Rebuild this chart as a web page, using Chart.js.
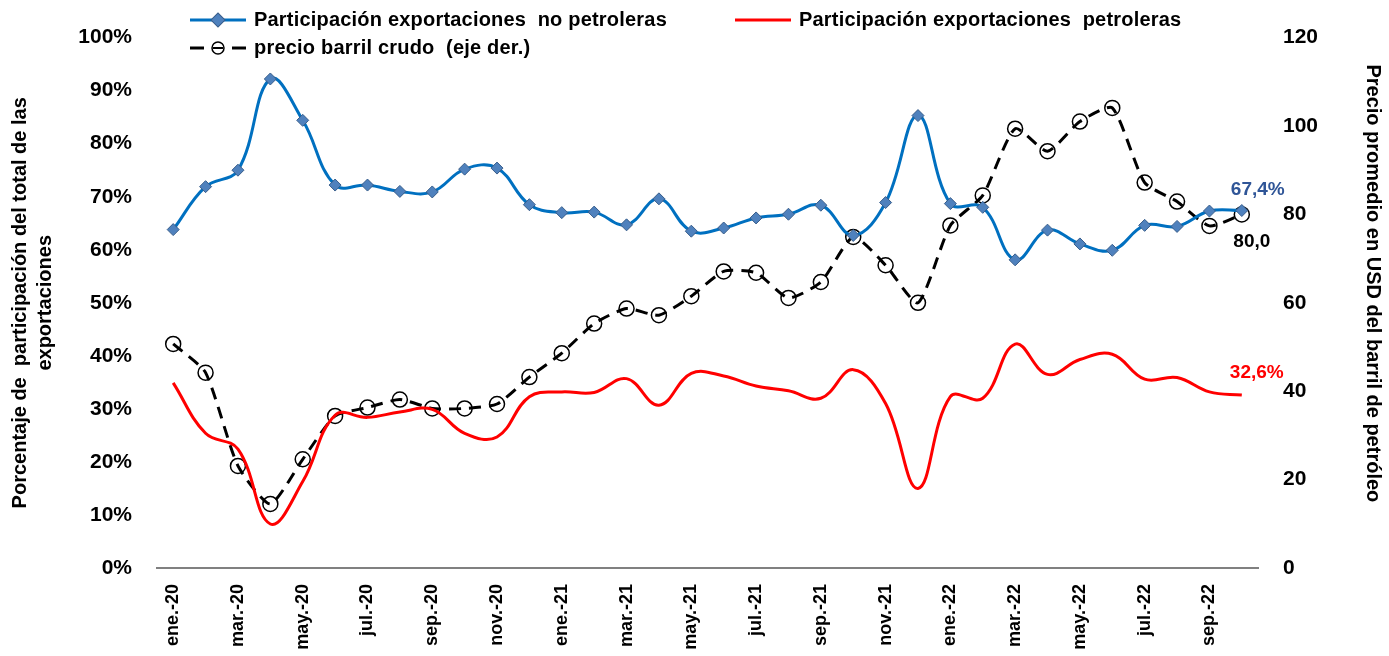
<!DOCTYPE html>
<html>
<head>
<meta charset="utf-8">
<script src="https://cdn.jsdelivr.net/npm/chart.js@4.4.1/dist/chart.umd.min.js"></script>
<style>
  body { margin: 0; background: #fff; }
  #wrap { position: relative; width: 1389px; height: 656px; }
  #leyenda { position: absolute; left: 0; top: 0; width: 1389px; height: 70px;
    font-family: 'Liberation Sans Narrow', 'Arial Narrow', 'Liberation Sans', Arial, sans-serif;
    font-weight: bold; font-size: 20px; letter-spacing: 0.2px; color: #000; }
  .item { position: absolute; display: flex; align-items: center; white-space: nowrap; }
  .item svg { margin-right: 8px; flex: none; }
</style>
</head>
<body>
<div id="wrap">
  <canvas id="graficoExport" width="1389" height="656"></canvas>
  <div id="leyenda">
    <div class="item" style="left:190px; top:8px;"><svg width="56" height="16"><line x1="0" y1="8" x2="56" y2="8" stroke="#0070C0" stroke-width="3"/><rect x="23" y="3" width="10" height="10" fill="#4F81BD" stroke="#385D8A" transform="rotate(45 28 8)"/></svg><span>Participación exportaciones&nbsp; no petroleras</span></div>
    <div class="item" style="left:735px; top:8px;"><svg width="56" height="16"><line x1="0" y1="8" x2="56" y2="8" stroke="#FF0000" stroke-width="3"/></svg><span>Participación exportaciones&nbsp; petroleras</span></div>
    <div class="item" style="left:190px; top:36px;"><svg width="56" height="16"><line x1="0" y1="8" x2="14" y2="8" stroke="#000" stroke-width="3"/><line x1="42" y1="8" x2="56" y2="8" stroke="#000" stroke-width="3"/><circle cx="28" cy="8" r="6" fill="none" stroke="#000" stroke-width="1.5"/><line x1="23" y1="8" x2="33" y2="8" stroke="#000" stroke-width="2"/></svg><span>precio barril crudo&nbsp; (eje der.)</span></div>
  </div>
</div>
<script>
const meses = ['ene.-20','feb.-20','mar.-20','abr.-20','may.-20','jun.-20','jul.-20','ago.-20','sep.-20','oct.-20','nov.-20','dic.-20',
               'ene.-21','feb.-21','mar.-21','abr.-21','may.-21','jun.-21','jul.-21','ago.-21','sep.-21','oct.-21','nov.-21','dic.-21',
               'ene.-22','feb.-22','mar.-22','abr.-22','may.-22','jun.-22','jul.-22','ago.-22','sep.-22','oct.-22'];

// participación exportaciones no petroleras (%)
const noPetroleras = [63.8, 71.9, 75.0, 92.2, 84.4, 72.2, 72.2, 71.0, 70.9, 75.2, 75.4, 68.5,
                      67.0, 67.1, 64.7, 69.6, 63.5, 64.1, 66.0, 66.7, 68.4, 62.7, 68.9, 85.3,
                      68.7, 68.0, 58.1, 63.7, 61.1, 59.9, 64.6, 64.4, 67.3, 67.4];

// participación exportaciones petroleras (%)
const petroleras = [34.9, 25.4, 22.4, 8.3, 16.3, 28.8, 28.4, 29.4, 29.9, 25.4, 24.7, 32.3,
                    33.2, 33.1, 35.7, 30.7, 36.7, 36.2, 34.3, 33.4, 32.0, 37.4, 31.0, 15.0,
                    32.3, 32.0, 42.2, 36.5, 39.3, 40.3, 35.6, 35.9, 33.2, 32.6];

// precio barril crudo (USD, eje derecho)
const precioBarril = [50.7, 44.2, 23.1, 14.5, 24.6, 34.4, 36.3, 38.1, 36.1, 36.1, 37.1, 43.2,
                      48.6, 55.3, 58.7, 57.2, 61.5, 67.1, 66.8, 61.1, 64.7, 74.9, 68.5, 60.0,
                      77.5, 84.3, 99.4, 94.3, 101.0, 104.1, 87.2, 82.9, 77.4, 80.0];

const etiquetasFinales = ['67,4%', '32,6%', '80,0'];

const fuenteNarrow = "'Liberation Sans Narrow', 'Arial Narrow', 'Liberation Sans', Arial, sans-serif";

// etiquetas del último punto de cada serie
const ultimoValor = {
    id: 'ultimoValor',
    afterDatasetsDraw(chart) {
        const ctx = chart.ctx;
        const ajustes = [
            { color: '#2F5597', dx: 16, dy: -21 },
            { color: '#FF0000', dx: 15, dy: -22 },
            { color: '#000000', dx: 10, dy: 27 }
        ];
        ctx.save();
        ctx.font = "bold 19px 'Liberation Sans', Arial, sans-serif";
        ctx.textAlign = 'center';
        ctx.textBaseline = 'middle';
        chart.data.datasets.forEach((ds, i) => {
            const meta = chart.getDatasetMeta(i);
            const p = meta.data[meta.data.length - 1];
            ctx.fillStyle = ajustes[i].color;
            ctx.fillText(etiquetasFinales[i], p.x + ajustes[i].dx, p.y + ajustes[i].dy);
        });
        ctx.restore();
    }
};

const ctx = document.getElementById('graficoExport').getContext('2d');
new Chart(ctx, {
    type: 'line',
    data: {
        labels: meses,
        datasets: [{
            label: 'Participación exportaciones  no petroleras',
            data: noPetroleras,
            yAxisID: 'y',
            borderColor: '#0070C0',
            borderWidth: 3,
            tension: 0.4,
            pointStyle: 'rectRot',
            pointRadius: 6,
            pointBackgroundColor: '#4F81BD',
            pointBorderColor: '#385D8A',
            pointBorderWidth: 1
        }, {
            label: 'Participación exportaciones  petroleras',
            data: petroleras,
            yAxisID: 'y',
            borderColor: '#FF0000',
            borderWidth: 3,
            tension: 0.4,
            pointRadius: 0
        }, {
            label: 'precio barril crudo (eje der.)',
            data: precioBarril,
            yAxisID: 'y1',
            borderColor: '#000000',
            borderWidth: 3,
            borderDash: [12, 8],
            tension: 0.2,
            pointStyle: 'circle',
            pointRadius: 7.5,
            pointBackgroundColor: 'rgba(255,255,255,0)',
            pointBorderColor: '#000000',
            pointBorderWidth: 1.5
        }]
    },
    options: {
        responsive: false,
        animation: false,
        layout: { padding: { top: 37, left: 0, right: 0, bottom: 0 } },
        plugins: {
            legend: { display: false },
            tooltip: { enabled: false }
        },
        scales: {
            x: {
                offset: true,
                grid: { display: false, drawTicks: false },
                border: { display: true, color: '#808080', width: 2 },
                afterFit: function (scale) { scale.height = 88; },
                ticks: {
                    autoSkip: false,
                    maxRotation: 90,
                    minRotation: 90,
                    padding: 16,
                    color: '#000',
                    font: { family: "'Liberation Sans', Arial, sans-serif", size: 18, weight: 'bold' },
                    callback: function (v, i) { return i % 2 === 0 ? meses[i] : ''; }
                }
            },
            y: {
                position: 'left',
                min: 0,
                max: 100,
                grid: { display: false, drawTicks: false },
                border: { display: false },
                afterFit: function (scale) { scale.width = 157; },
                ticks: {
                    stepSize: 10,
                    padding: 25,
                    color: '#000',
                    font: { family: fuenteNarrow, size: 21, weight: 'bold' },
                    callback: function (v) { return v + '%'; }
                },
                title: {
                    display: true,
                    text: ['Porcentaje de  participación del total de las', 'exportaciones'],
                    color: '#000',
                    font: { family: fuenteNarrow, size: 20, weight: 'bold', lineHeight: 1.25 },
                    padding: { top: 8, bottom: 4 }
                }
            },
            y1: {
                position: 'right',
                min: 0,
                max: 120,
                grid: { display: false, drawTicks: false },
                border: { display: false },
                afterFit: function (scale) { scale.width = 131; },
                ticks: {
                    stepSize: 20,
                    padding: 25,
                    color: '#000',
                    font: { family: fuenteNarrow, size: 21, weight: 'bold' }
                },
                title: {
                    display: true,
                    text: 'Precio promedio en USD del barril de petróleo\u00a0\u00a0\u00a0\u00a0\u00a0\u00a0\u00a0',
                    color: '#000',
                    font: { family: fuenteNarrow, size: 20, weight: 'bold' },
                    padding: { top: 4, bottom: 4 }
                }
            }
        }
    },
    plugins: [ultimoValor]
});
</script>
</body>
</html>
